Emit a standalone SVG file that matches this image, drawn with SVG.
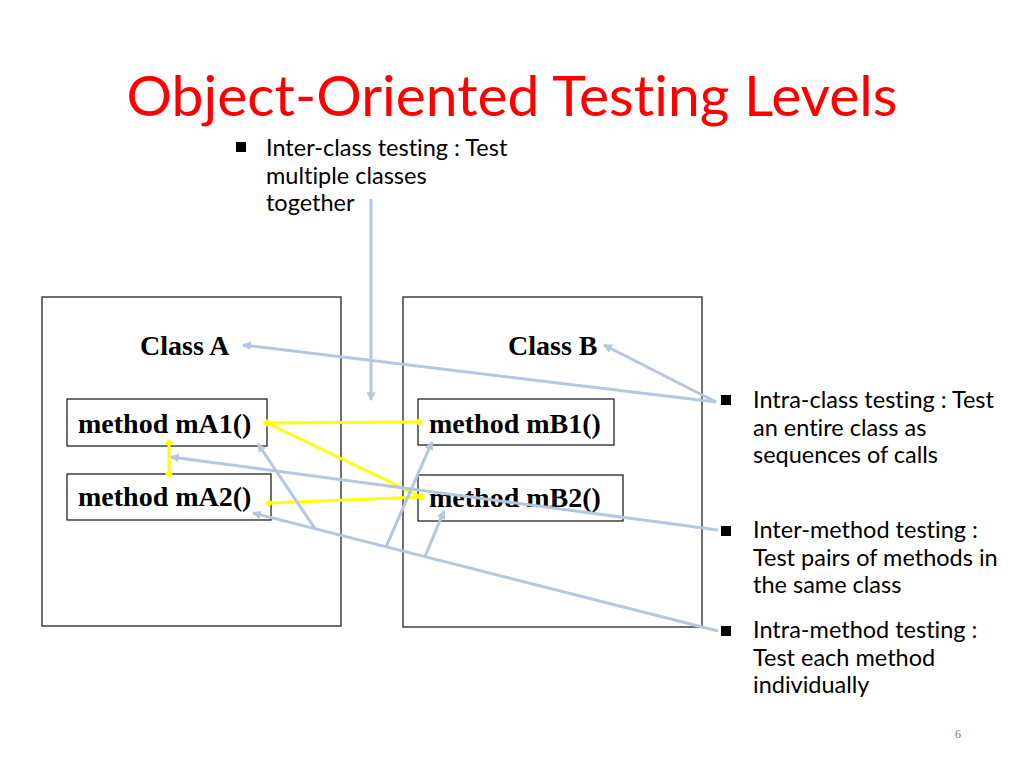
<svg xmlns="http://www.w3.org/2000/svg" width="1024" height="768" viewBox="0 0 1024 768">
<defs>
<style>
.title{font-family:Lato,"Open Sans","Liberation Sans",sans-serif;font-size:57px;fill:#ff0000;font-variant-ligatures:none;font-feature-settings:"liga" 0;}
.body{font-family:Lato,"Open Sans","Liberation Sans",sans-serif;font-size:23.5px;fill:#000;font-variant-ligatures:none;font-feature-settings:"liga" 0;}
.cls{font-family:"Liberation Serif","Times New Roman",serif;font-weight:bold;font-size:28px;fill:#000;}
.box{fill:#fff;stroke:#222;stroke-width:1.3;}
.blue{stroke:#b4c7dc;stroke-width:3;fill:none;marker-end:url(#arr);}
.yel{stroke:#ffff00;stroke-width:3;fill:none;marker-start:url(#dot);marker-end:url(#dot);}
.bullet{fill:#000;}
.pg{font-family:"Liberation Serif",serif;font-size:12px;fill:#777;}
</style>
<marker id="arr" viewBox="0 0 4 4" refX="3.5" refY="2" markerWidth="3" markerHeight="3" orient="auto" markerUnits="strokeWidth">
<path d="M0,0 L4,2 L0,4 z" fill="#b4c7dc"/>
</marker>
<marker id="dot" viewBox="0 0 4 4" refX="2" refY="2" markerWidth="2.6" markerHeight="2.6" orient="auto" markerUnits="strokeWidth">
<path d="M2,0 L4,2 L2,4 L0,2 z" fill="#ffff00"/>
</marker>
</defs>
<rect width="1024" height="768" fill="#fff"/>
<text class="title" x="512" y="116" text-anchor="middle">Object-Oriented Testing Levels</text>

<g id="note-interclass">
<rect class="bullet" x="236" y="142" width="10" height="10"/>
<text class="body" x="266" y="156">Inter-class testing : Test</text>
<text class="body" x="266" y="184">multiple classes</text>
<text class="body" x="266" y="211">together</text>
</g>

<g id="classA">
<rect class="box" x="42" y="297" width="299" height="329"/>
<text class="cls" x="140" y="355">Class A</text>
</g>
<g id="classB">
<rect class="box" x="403" y="297" width="299" height="330"/>
<text class="cls" x="508" y="355">Class B</text>
</g>
<g id="mA1">
<rect class="box" x="67" y="399" width="200" height="47"/>
<text class="cls" x="78" y="433">method mA1()</text>
</g>
<g id="mA2">
<rect class="box" x="67" y="474" width="204" height="46"/>
<text class="cls" x="78" y="506">method mA2()</text>
</g>
<g id="mB1">
<rect class="box" x="418" y="399" width="196" height="46"/>
<text class="cls" x="429" y="433">method mB1()</text>
</g>
<g id="mB2">
<rect class="box" x="418" y="475" width="205" height="46"/>
<text class="cls" x="429" y="507">method mB2()</text>
</g>

<g id="note-intraclass">
<rect class="bullet" x="721" y="395" width="10" height="10"/>
<text class="body" x="753" y="408">Intra-class testing : Test</text>
<text class="body" x="753" y="436">an entire class as</text>
<text class="body" x="753" y="463">sequences of calls</text>
</g>
<g id="note-intermethod">
<rect class="bullet" x="721" y="526" width="10" height="10"/>
<text class="body" x="753" y="538">Inter-method testing :</text>
<text class="body" x="753" y="566">Test pairs of methods in</text>
<text class="body" x="753" y="593">the same class</text>
</g>
<g id="note-intramethod">
<rect class="bullet" x="721" y="626" width="10" height="10"/>
<text class="body" x="753" y="638">Intra-method testing :</text>
<text class="body" x="753" y="666">Test each method</text>
<text class="body" x="753" y="693">individually</text>
</g>

<g id="connectors">
<line class="yel" x1="267" y1="423" x2="419" y2="422"/>
<line class="yel" x1="267" y1="423" x2="421" y2="497"/>
<line class="yel" x1="269" y1="503" x2="421" y2="497"/>
<line class="yel" x1="169" y1="443" x2="169" y2="474"/>

<line class="blue" x1="371" y1="199" x2="371" y2="400"/>
<line class="blue" x1="716" y1="402" x2="243" y2="345"/>
<line class="blue" x1="716" y1="402" x2="604" y2="345"/>
<line class="blue" x1="718" y1="530" x2="171" y2="457"/>
<line class="blue" x1="718" y1="631" x2="253" y2="513"/>
<line class="blue" x1="315" y1="528.7" x2="258" y2="444"/>
<line class="blue" x1="386" y1="546.8" x2="432" y2="442"/>
<line class="blue" x1="425" y1="556.7" x2="444" y2="511"/>
</g>

<text class="pg" x="955" y="738">6</text>
</svg>
